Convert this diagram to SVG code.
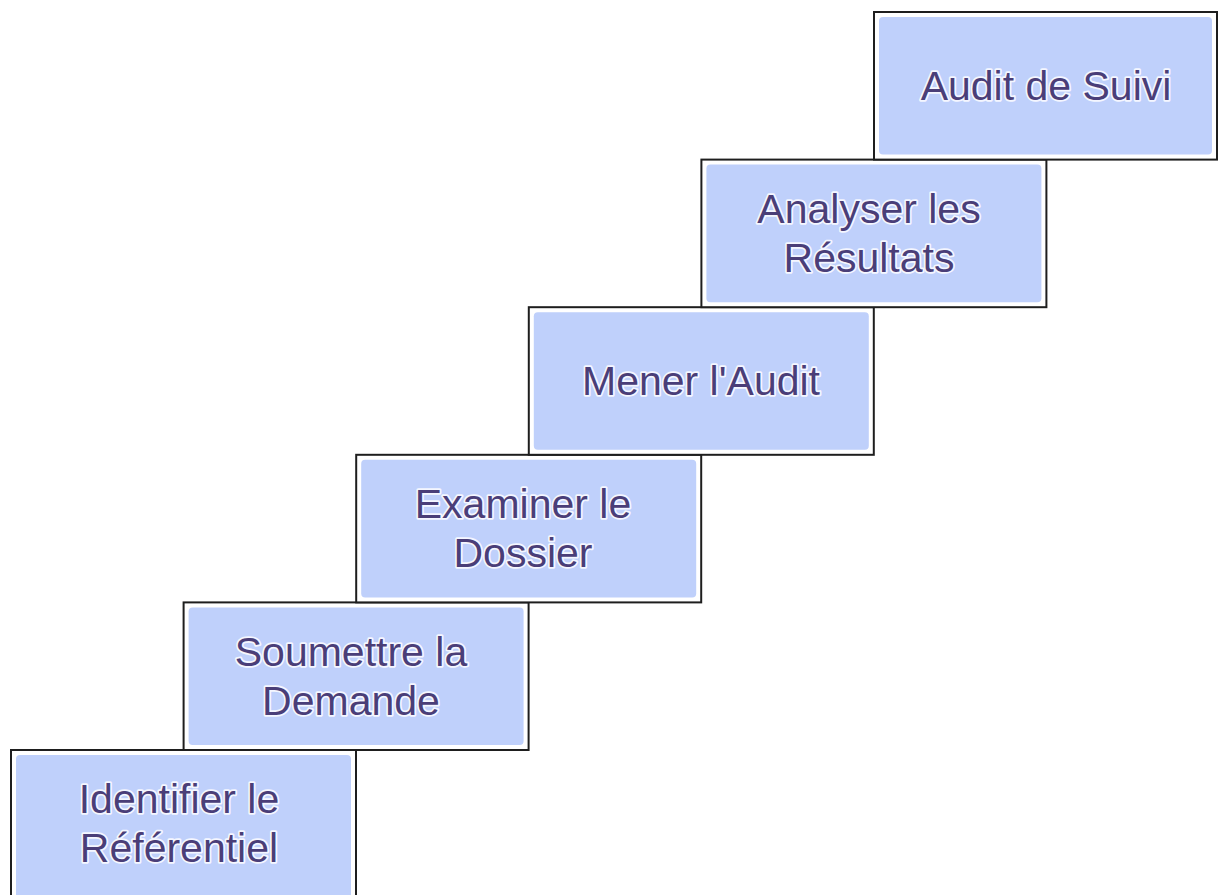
<svg xmlns="http://www.w3.org/2000/svg" width="1219" height="895" viewBox="0 0 1219 895">
<style>
.outer{fill:#ffffff;stroke:#1e1e1e;stroke-width:2}
.inner{fill:#bfd0fb;stroke:none}
.lbl{font-family:"Liberation Sans",Arial,sans-serif;font-size:41px;fill:#4a3e78;text-anchor:middle;stroke:#f4f6ff;stroke-width:3.5;stroke-linejoin:round;paint-order:stroke}
</style>
<rect width="1219" height="895" fill="#ffffff"/>
<g id="connectors"></g>
<g id="step1">
<rect class="outer" x="11" y="750" width="345" height="160"/>
<rect class="inner" x="16" y="755" width="335" height="150" rx="4"/>
<text class="lbl" x="179" y="813">Identifier le</text>
<text class="lbl" x="179" y="862">Référentiel</text>
</g>
<g id="step2">
<rect class="outer" x="183.6" y="602.4" width="345" height="147.6"/>
<rect class="inner" x="188.6" y="607.4" width="335" height="137.6" rx="4"/>
<text class="lbl" x="351" y="666">Soumettre la</text>
<text class="lbl" x="351" y="715">Demande</text>
</g>
<g id="step3">
<rect class="outer" x="356.2" y="454.8" width="345" height="147.6"/>
<rect class="inner" x="361.2" y="459.8" width="335" height="137.6" rx="4"/>
<text class="lbl" x="523" y="518">Examiner le</text>
<text class="lbl" x="523" y="567">Dossier</text>
</g>
<g id="step4">
<rect class="outer" x="528.8" y="307.2" width="345" height="147.6"/>
<rect class="inner" x="533.8" y="312.2" width="335" height="137.6" rx="4"/>
<text class="lbl" x="701" y="395">Mener l'Audit</text>
</g>
<g id="step5">
<rect class="outer" x="701.4" y="159.6" width="345" height="147.6"/>
<rect class="inner" x="706.4" y="164.6" width="335" height="137.6" rx="4"/>
<text class="lbl" x="869" y="223">Analyser les</text>
<text class="lbl" x="869" y="272">Résultats</text>
</g>
<g id="step6">
<rect class="outer" x="874" y="12" width="343" height="147.6"/>
<rect class="inner" x="879" y="17" width="333" height="137.6" rx="4"/>
<text class="lbl" x="1046" y="100">Audit de Suivi</text>
</g>
</svg>
